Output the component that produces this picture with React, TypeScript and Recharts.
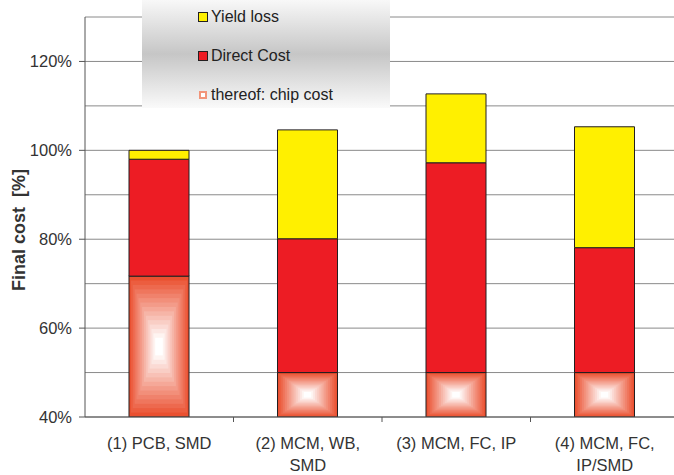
import React from "react";
import { BarChart, Bar, XAxis, YAxis, CartesianGrid, Legend } from "recharts";

const categories = [
  "(1) PCB, SMD",
  "(2) MCM, WB,\nSMD",
  "(3) MCM, FC, IP",
  "(4) MCM, FC,\nIP/SMD",
];
const chipCost = [71.7, 50, 50, 50];
const directCost = [26.3, 30.1, 47.2, 28.1];
const yieldLoss = [2, 24.5, 15.5, 27.2];
const yTicks = [40, 50, 60, 70, 80, 90, 100, 110, 120, 130];

const data = categories.map((name, i) => ({
  name,
  chip: chipCost[i],
  direct: directCost[i],
  yield: yieldLoss[i],
}));

const FONT = "'Liberation Sans', Arial, sans-serif";
const TEXT = "#333";
const CHART_W = 690;
const CHART_H = 475;
const PLOT_LEFT = 85;
const PLOT_TOP = 17;
const PLOT_BOTTOM = 417;
const PLOT_RIGHT = 679;
const CAT_W = (PLOT_RIGHT - PLOT_LEFT) / categories.length;

const OUTER = [234, 80, 48];
const mix = (t: number) => {
  const k = Math.min(1, t * 1.15);
  const c = OUTER.map((v) => Math.round(v + (255 - v) * k));
  return `rgb(${c[0]},${c[1]},${c[2]})`;
};

const ChipShape = (props: any) => {
  const { x, y, width, height } = props;
  const top = Math.max(y, PLOT_TOP);
  const bottom = Math.min(y + height, PLOT_BOTTOM);
  const h = bottom - top;
  const steps = 16;
  const rects = [];
  for (let i = 0; i < steps; i++) {
    const t = i / steps;
    const dx = (t * width) / 2;
    const dy = (t * h) / 2;
    rects.push(
      <rect
        key={i}
        x={x + dx}
        y={top + dy}
        width={width - 2 * dx}
        height={h - 2 * dy}
        fill={mix(t)}
      />
    );
  }
  return (
    <g>
      {rects}
      <rect x={x} y={top} width={width} height={h} fill="none" stroke="#231f20" strokeWidth={1} />
    </g>
  );
};

const YTick = (props: any) => {
  const { y, payload } = props;
  if (payload.value % 20 !== 0) return null;
  return (
    <g>
      <line x1={PLOT_LEFT - 6} x2={PLOT_LEFT} y1={y} y2={y} stroke="#555" />
      <text
        x={PLOT_LEFT - 13}
        y={y}
        textAnchor="end"
        dominantBaseline="central"
        fontFamily={FONT}
        fontSize={16.5}
        fill={TEXT}
      >
        {payload.value}%
      </text>
    </g>
  );
};

const XTick = (props: any) => {
  const { x, payload, index } = props;
  const lines = String(payload.value).split("\n");
  const left = x - CAT_W / 2;
  return (
    <g>
      {index > 0 && (
        <line x1={left} x2={left} y1={PLOT_BOTTOM} y2={PLOT_BOTTOM + 5} stroke="#555" />
      )}
      <text textAnchor="middle" fontFamily={FONT} fontSize={16.5} fill={TEXT}>
        {lines.map((l, i) => (
          <tspan key={i} x={x} y={PLOT_BOTTOM + 32 + i * 22}>
            {l}
          </tspan>
        ))}
      </text>
    </g>
  );
};

const legendItems = [
  { label: "Yield loss", color: "#fff000", top: 17 },
  { label: "Direct Cost", color: "#ed1c24", top: 56 },
  { label: "thereof: chip cost", color: "chip", top: 95 },
];

const LegendBox = () => (
  <div
    style={{
      position: "relative",
      width: 248,
      height: 108,
      background: "linear-gradient(to bottom, #f8f8f8 0%, #c6c6c6 50%, #fafafa 100%)",
      fontFamily: FONT,
      fontSize: 16,
      color: "#222",
    }}
  >
    {legendItems.map((it) => (
      <div
        key={it.label}
        style={{ position: "absolute", left: 56, top: it.top - 10, height: 20, display: "flex", alignItems: "center" }}
      >
        {it.color === "chip" ? (
          <span
            style={{
              display: "inline-block",
              width: 4,
              height: 4,
              margin: "0 4px 0 1px",
              background: "#fff",
              border: "2px solid #f2957a",
            }}
          />
        ) : (
          <span
            style={{
              display: "inline-block",
              width: 8,
              height: 8,
              marginRight: 3,
              background: it.color,
              border: "1px solid #231f20",
            }}
          />
        )}
        <span>{it.label}</span>
      </div>
    ))}
  </div>
);

export default function App() {
  return (
    <div
      style={{
        position: "absolute",
        left: 0,
        top: 0,
        width: 674,
        height: 475,
        overflow: "hidden",
        background: "#fff",
      }}
    >
      <BarChart
        width={CHART_W}
        height={CHART_H}
        data={data}
        margin={{ top: PLOT_TOP, right: CHART_W - PLOT_RIGHT, left: 0, bottom: 0 }}
        barSize={60}
      >
        <CartesianGrid vertical={false} stroke="#8a8a8a" />
        <XAxis
          dataKey="name"
          height={CHART_H - PLOT_BOTTOM}
          axisLine={{ stroke: "#555" }}
          tickLine={false}
          interval={0}
          tick={<XTick />}
        />
        <YAxis
          width={PLOT_LEFT}
          domain={[40, 130]}
          ticks={yTicks}
          allowDataOverflow
          axisLine={{ stroke: "#555" }}
          tickLine={false}
          tick={<YTick />}
          label={() => (
            <text
              x={19}
              y={230}
              transform="rotate(-90 19 230)"
              textAnchor="middle"
              dominantBaseline="central"
              fontFamily={FONT}
              fontWeight="bold"
              fontSize={18}
              fill={TEXT}
              style={{ whiteSpace: "pre" }}
            >
              {"Final cost  [%]"}
            </text>
          )}
        />
        <Legend
          layout="horizontal"
          verticalAlign="middle"
          align="center"
          content={<LegendBox />}
          wrapperStyle={{ left: 142, top: 0, width: 248, height: 108 }}
        />
        <Bar dataKey="chip" stackId="a" shape={<ChipShape />} isAnimationActive={false} />
        <Bar dataKey="direct" stackId="a" fill="#ed1c24" stroke="#231f20" strokeWidth={1} isAnimationActive={false} />
        <Bar dataKey="yield" stackId="a" fill="#fff000" stroke="#231f20" strokeWidth={1} isAnimationActive={false} />
      </BarChart>
    </div>
  );
}
